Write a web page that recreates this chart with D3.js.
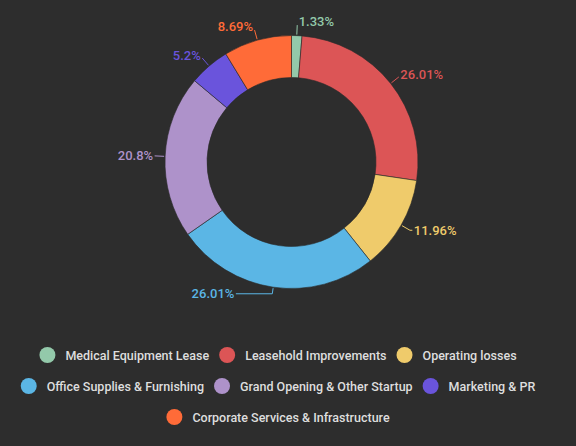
<!DOCTYPE html>
<html>
<head>
<meta charset="utf-8">
<script src="https://cdn.jsdelivr.net/npm/d3@7"></script>
<style>
  html, body { margin: 0; padding: 0; background: #2d2d2d; }
  svg { display: block; font-family: Roboto, "Noto Sans", sans-serif; }
</style>
</head>
<body>
<div id="chart"></div>
<script>
// Data
const categories = [
    'Medical Equipment Lease',
    'Leasehold Improvements',
    'Operating losses',
    'Office Supplies & Furnishing',
    'Grand Opening & Other Startup',
    'Marketing & PR',
    'Corporate Services & Infrastructure'
];
const shares = [1.33, 26.01, 11.96, 26.01, 20.8, 5.2, 8.69];
const colors = ['#93c9aa', '#dc5556', '#efcb6b', '#5bb6e5', '#ae92ca', '#6a54dc', '#ff6b38'];

const dataset = categories.map((name, i) => ({ name, value: shares[i] }));

// Dimension
const dimensions = {
    width: 576,
    height: 446,
    cx: 291.5,
    cy: 162,
    outer: 126.5,
    inner: 84.5,
};

const svg = d3.select('#chart')
    .append('svg')
    .attr('width', dimensions.width)
    .attr('height', dimensions.height);

svg.append('rect')
    .attr('width', dimensions.width)
    .attr('height', dimensions.height)
    .attr('fill', '#2d2d2d');

const colorScale = d3.scaleOrdinal()
    .domain(categories)
    .range(colors);

const pie = d3.pie()
    .value(d => d.value)
    .sort(null);

const arcs = pie(dataset);

const arc = d3.arc()
    .innerRadius(dimensions.inner)
    .outerRadius(dimensions.outer);

const container = svg.append('g')
    .attr('transform', `translate(${dimensions.cx}, ${dimensions.cy})`);

// Draw slices
container.append('g')
    .selectAll('path')
    .data(arcs)
    .join('path')
    .attr('d', arc)
    .attr('fill', d => colorScale(d.data.name))
    .attr('stroke', '#2a2a2a')
    .attr('stroke-width', 0.6);

// Labels
const polar = (r, a) => [r * Math.sin(a), -r * Math.cos(a)];

const labels = container.append('g')
    .selectAll('g')
    .data(arcs)
    .join('g');

labels.each(function (d) {
    const g = d3.select(this);
    const mid = (d.startAngle + d.endAngle) / 2;
    const side = Math.sin(mid) >= 0 ? 1 : -1;
    const bottom = Math.max(0, -Math.cos(mid));
    const p0 = polar(dimensions.outer + 1, mid);
    const p1 = polar(dimensions.outer + 10.5 - 4 * Math.pow(bottom, 4), mid);
    const tail = 38 * Math.pow(bottom, 4);
    const p2 = [p1[0] + side * tail, p1[1]];
    const up = 4 * Math.max(0, Math.cos(mid));

    g.append('polyline')
        .attr('points', [p0, p1, p2].map(p => p.join(',')).join(' '))
        .attr('fill', 'none')
        .attr('stroke', colorScale(d.data.name))
        .attr('stroke-width', 1);

    g.append('text')
        .attr('x', p2[0] + side * 1.5)
        .attr('y', p2[1] - up)
        .attr('dominant-baseline', 'central')
        .attr('text-anchor', side > 0 ? 'start' : 'end')
        .attr('fill', colorScale(d.data.name))
        .attr('font-size', 13)
        .attr('font-weight', 500)
        .text(`${d.data.value}%`);
});

// Legend
const legend = svg.append('g');
const legendItems = legend.selectAll('g')
    .data(dataset)
    .join('g');

legendItems.append('circle')
    .attr('cx', 8)
    .attr('cy', 0)
    .attr('r', 8)
    .attr('fill', d => colorScale(d.name));

legendItems.append('text')
    .attr('x', 26)
    .attr('y', 0)
    .attr('dominant-baseline', 'central')
    .attr('fill', '#dedede')
    .attr('font-size', 12.5)
    .attr('font-weight', 500)
    .text(d => d.name);

// flow layout, rows centred
const maxRow = 556;
const gap = 10;
const rows = [];
let row = [];
let rowWidth = 0;
legendItems.each(function () {
    const w = 26 + d3.select(this).select('text').node().getComputedTextLength();
    const add = row.length ? gap + w : w;
    if (row.length && rowWidth + add > maxRow) {
        rows.push({ items: row, width: rowWidth });
        row = [];
        rowWidth = 0;
    }
    rowWidth += row.length ? gap + w : w;
    row.push({ node: this, w });
});
if (row.length) rows.push({ items: row, width: rowWidth });

rows.forEach((r, i) => {
    let x = 278 - r.width / 2;
    const y = 355 + i * 31;
    r.items.forEach(it => {
        d3.select(it.node).attr('transform', `translate(${x}, ${y})`);
        x += it.w + gap;
    });
});
</script>
</body>
</html>
